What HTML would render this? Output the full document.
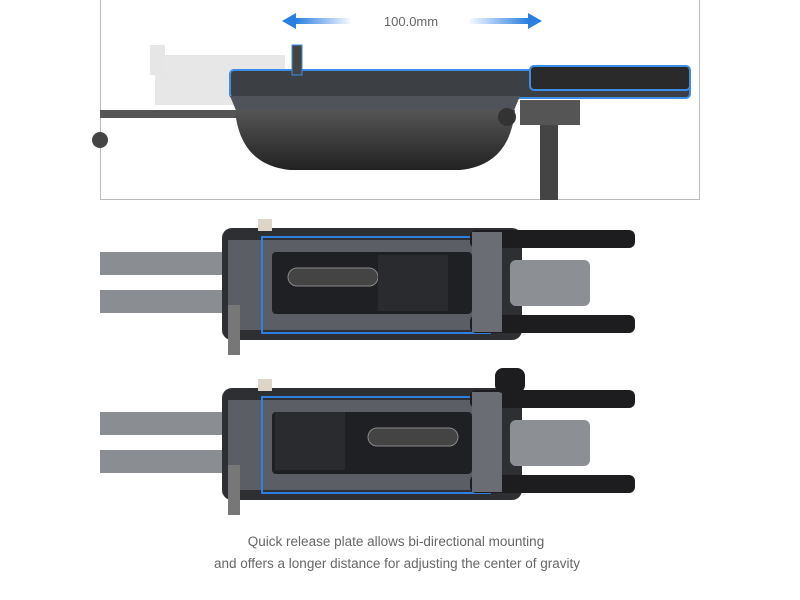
<!DOCTYPE html>
<html><head><meta charset="utf-8"><style>
body{margin:0;width:800px;height:600px;background:#fff;overflow:hidden;font-family:"Liberation Sans",sans-serif;position:relative}
.a{position:absolute}
</style></head><body>
<svg class="a" style="left:0;top:0" width="800" height="600" viewBox="0 0 800 600">
<defs>
<linearGradient id="al" x1="0" x2="1"><stop offset="0" stop-color="#2a7fe0"/><stop offset="1" stop-color="#2a7fe0" stop-opacity="0.05"/></linearGradient>
<linearGradient id="ar" x1="0" x2="1"><stop offset="0" stop-color="#2a7fe0" stop-opacity="0.05"/><stop offset="1" stop-color="#2a7fe0"/></linearGradient>
<linearGradient id="body" x1="0" y1="0" x2="0" y2="1"><stop offset="0" stop-color="#555"/><stop offset="1" stop-color="#222"/></linearGradient>
</defs>
<path d="M100.5 0 V199.5 H699.5 V0" fill="none" stroke="#bbb"/>
<polygon points="282,21 296,13 296,29" fill="#2a7fe0"/>
<rect x="296" y="18" width="54" height="6" fill="url(#al)"/>
<polygon points="542,21 528,13 528,29" fill="#2a7fe0"/>
<rect x="470" y="18" width="58" height="6" fill="url(#ar)"/>
<text x="411" y="26" font-size="13" fill="#666" text-anchor="middle">100.0mm</text>
<rect x="100" y="110" width="150" height="8" fill="#555"/>
<rect x="155" y="55" width="130" height="50" fill="#ddd" opacity="0.7"/>
<rect x="150" y="45" width="15" height="30" fill="#e6e6e6"/>
<rect x="230" y="70" width="460" height="28" rx="4" fill="#3c3f44" stroke="#3a8ee8" stroke-width="2"/>
<rect x="530" y="66" width="160" height="24" rx="4" fill="#2a2a2a" stroke="#3a8ee8" stroke-width="2"/>
<rect x="292" y="45" width="10" height="30" fill="#444" stroke="#3a8ee8"/>
<path d="M230 96 H520 L510 120 H240 Z" fill="#50545a"/>
<path d="M235 110 Q240 165 290 170 H460 Q510 165 515 110 Z" fill="url(#body)"/>
<rect x="540" y="100" width="18" height="100" fill="#444"/>
<rect x="520" y="100" width="60" height="25" fill="#555"/>
<circle cx="507" cy="117" r="9" fill="#333"/>
<circle cx="100" cy="140" r="8" fill="#444"/>
<g id="m">
<rect x="100" y="252" width="130" height="23" fill="#8a8d91"/>
<rect x="100" y="290" width="130" height="23" fill="#8a8d91"/>
<rect x="222" y="228" width="300" height="112" rx="10" fill="#2d2f33"/>
<rect x="228" y="240" width="250" height="90" fill="#5b5f65"/>
<rect x="262" y="237" width="228" height="96" fill="none" stroke="#2f7fe0" stroke-width="2"/>
<rect x="272" y="252" width="200" height="62" rx="4" fill="#1f2023"/>
<rect x="470" y="230" width="165" height="18" rx="6" fill="#1d1d1f"/>
<rect x="470" y="315" width="165" height="18" rx="6" fill="#1d1d1f"/>
<rect x="472" y="232" width="30" height="100" fill="#6a6e74"/>
<rect x="510" y="260" width="80" height="46" rx="6" fill="#8c9095"/>
<rect x="258" y="219" width="14" height="12" fill="#ddd5c8"/>
<rect x="228" y="305" width="12" height="50" fill="#777"/>
</g>
<rect x="288" y="268" width="90" height="18" rx="9" fill="#444" stroke="#888"/>
<rect x="378" y="255" width="70" height="56" fill="#2a2b2e"/>
<use href="#m" transform="translate(0,160)"/>
<rect x="275" y="412" width="70" height="58" fill="#2a2b2e"/>
<rect x="368" y="428" width="90" height="18" rx="9" fill="#444" stroke="#888"/>
<rect x="495" y="368" width="30" height="25" rx="8" fill="#1d1d1f"/>
<text x="396" y="546" font-size="13.5" fill="#666" text-anchor="middle">Quick release plate allows bi-directional mounting</text>
<text x="397" y="568" font-size="13.5" fill="#666" text-anchor="middle">and offers a longer distance for adjusting the center of gravity</text>
</svg>
</body></html>
